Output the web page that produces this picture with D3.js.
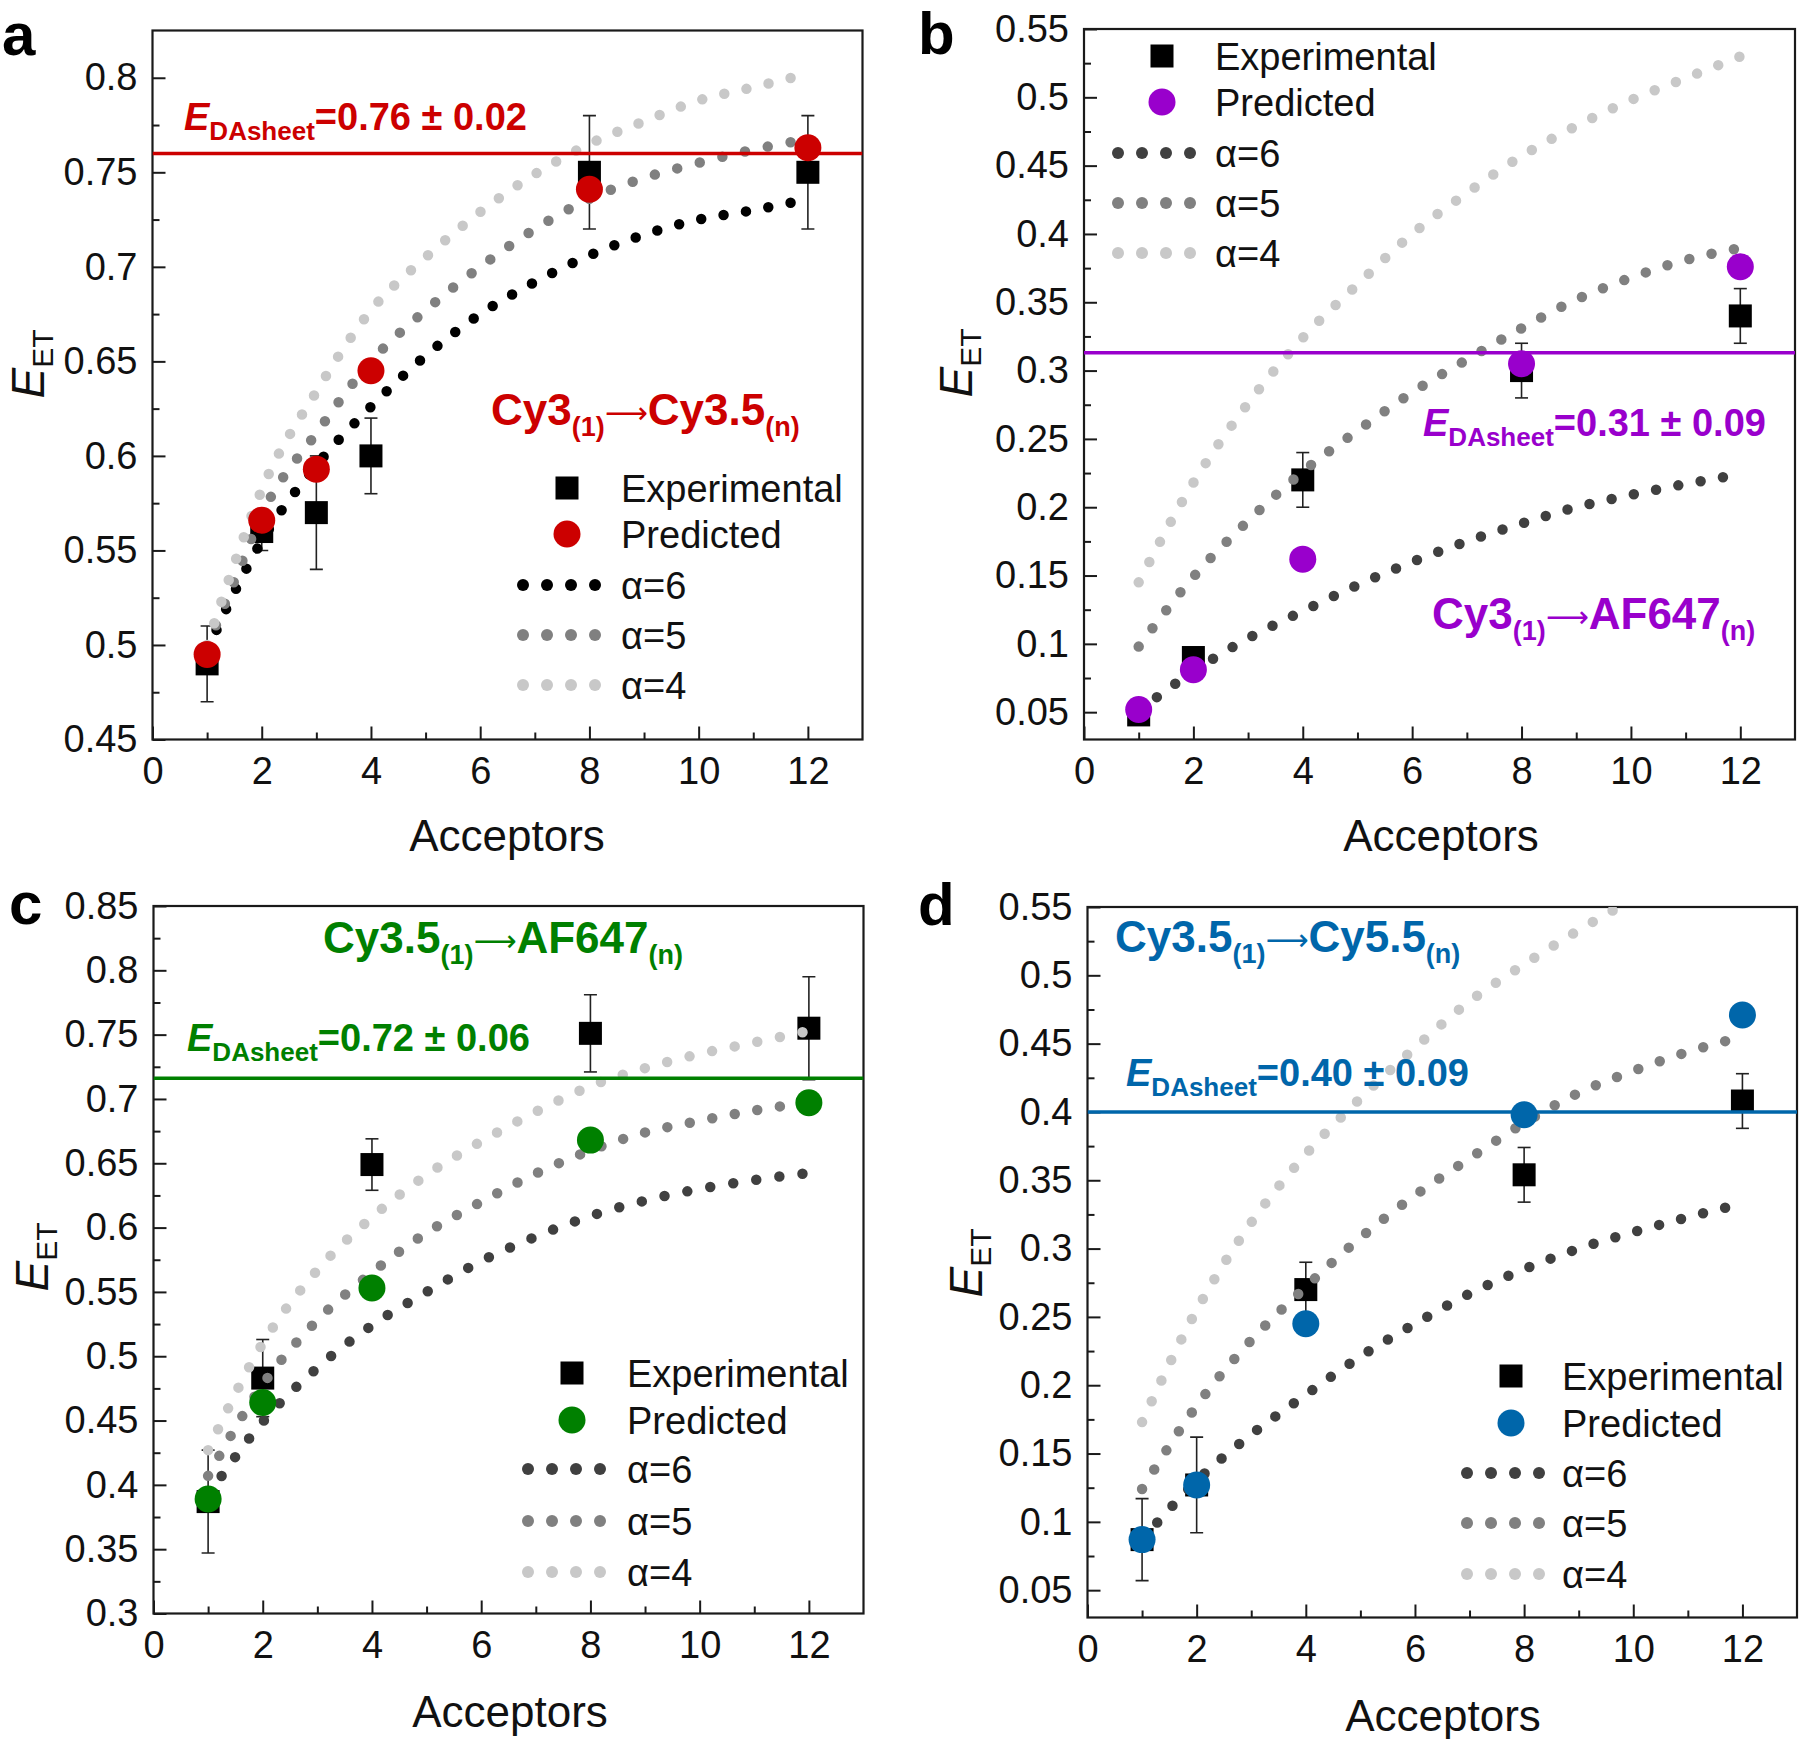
<!DOCTYPE html>
<html><head><meta charset="utf-8">
<script src="https://cdn.jsdelivr.net/npm/d3@7"></script>
<style>html,body{margin:0;padding:0;background:#fff;} text{font-family:"Liberation Sans",Arial,sans-serif;}</style>
</head><body><svg id="chart" width="1800" height="1739"></svg>
<script>
// ---------- shared ----------
const xTickValues = [0, 2, 4, 6, 8, 10, 12];
const xMinorTicks = [1, 3, 5, 7, 9, 11];
const legendLabels = ["Experimental", "Predicted"];
const alphaLabels = ["α=6", "α=5", "α=4"];
const xTitle = "Acceptors";

// ---------- panel a : Cy3 -> Cy3.5 ----------
const aAcceptors = [1, 2, 3, 4, 8, 12];
const aExperimental = [0.49, 0.56, 0.57, 0.60, 0.75, 0.75];
const aExpError = [0.02, 0.01, 0.03, 0.02, 0.03, 0.03];
const aPredicted = [0.495, 0.566, 0.593, 0.645, 0.741, 0.763];
const aCurveX = [1, 1.5, 2, 3, 4, 5, 6, 7, 8, 9, 10, 11, 11.7];
const aAlpha6 = [0.497, 0.528, 0.555, 0.595, 0.626, 0.653, 0.675, 0.692, 0.706, 0.717, 0.725, 0.730, 0.734];
const aAlpha5 = [0.499, 0.534, 0.569, 0.612, 0.650, 0.677, 0.700, 0.720, 0.736, 0.747, 0.755, 0.762, 0.766];
const aAlpha4 = [0.500, 0.543, 0.582, 0.634, 0.677, 0.705, 0.729, 0.749, 0.765, 0.777, 0.788, 0.795, 0.800];
const aSheet = 0.76;
const aYTicks = [0.45, 0.5, 0.55, 0.6, 0.65, 0.7, 0.75, 0.8];
const aYMinor = [0.475, 0.525, 0.575, 0.625, 0.675, 0.725, 0.775];

// ---------- panel b : Cy3 -> AF647 ----------
const bAcceptors = [1, 2, 4, 8, 12];
const bExperimental = [0.048, 0.09, 0.22, 0.30, 0.34];
const bExpError = [0, 0, 0.02, 0.02, 0.02];
const bPredicted = [0.052, 0.081, 0.162, 0.305, 0.376];
const bCurve6X = [1, 2, 3, 4, 5, 6, 7, 8, 9, 10, 11, 11.7];
const bAlpha6 = [0.051, 0.080, 0.104, 0.124, 0.143, 0.160, 0.175, 0.188, 0.200, 0.209, 0.217, 0.222];
const bCurve5X = [1, 2, 3, 4, 5, 6, 7, 8, 9, 10, 11, 11.9];
const bAlpha5 = [0.098, 0.149, 0.190, 0.226, 0.256, 0.284, 0.308, 0.331, 0.352, 0.368, 0.381, 0.389];
const bCurve4X = [1, 2, 3, 4, 5, 6, 7, 8, 9, 10, 11, 12];
const bAlpha4 = [0.145, 0.218, 0.276, 0.324, 0.363, 0.400, 0.430, 0.457, 0.479, 0.498, 0.514, 0.530];
const bSheet = 0.313;
const bYTicks = [0.05, 0.1, 0.15, 0.2, 0.25, 0.3, 0.35, 0.4, 0.45, 0.5, 0.55];
const bYMinor = [0.075, 0.125, 0.175, 0.225, 0.275, 0.325, 0.375, 0.425, 0.475, 0.525];

// ---------- panel c : Cy3.5 -> AF647 ----------
const cAcceptors = [1, 2, 4, 8, 12];
const cExperimental = [0.387, 0.483, 0.649, 0.751, 0.755];
const cExpError = [0.04, 0.03, 0.02, 0.03, 0.04];
const cPredicted = [0.389, 0.464, 0.553, 0.668, 0.697];
const cCurveX = [1, 2, 3, 4, 5, 6, 7, 8, 9, 10, 11, 11.9];
const cAlpha6 = [0.392, 0.449, 0.491, 0.524, 0.550, 0.574, 0.593, 0.609, 0.621, 0.630, 0.637, 0.642];
const cAlpha5 = [0.407, 0.478, 0.528, 0.565, 0.596, 0.620, 0.642, 0.660, 0.674, 0.683, 0.691, 0.697];
const cAlpha4 = [0.427, 0.510, 0.567, 0.608, 0.641, 0.667, 0.690, 0.710, 0.724, 0.735, 0.744, 0.752];
const cSheet = 0.716;
const cYTicks = [0.3, 0.35, 0.4, 0.45, 0.5, 0.55, 0.6, 0.65, 0.7, 0.75, 0.8, 0.85];
const cYMinor = [0.325, 0.375, 0.425, 0.475, 0.525, 0.575, 0.625, 0.675, 0.725, 0.775, 0.825];

// ---------- panel d : Cy3.5 -> Cy5.5 ----------
const dAcceptors = [1, 2, 4, 8, 12];
const dExperimental = [0.087, 0.127, 0.270, 0.354, 0.408];
const dExpError = [0.03, 0.035, 0.02, 0.02, 0.02];
const dPredicted = [0.087, 0.127, 0.245, 0.398, 0.471];
const dCurve6X = [1, 2, 3, 4, 5, 6, 7, 8, 9, 10, 11, 11.7];
const dAlpha6 = [0.087, 0.130, 0.164, 0.193, 0.221, 0.245, 0.267, 0.285, 0.300, 0.312, 0.323, 0.330];
const dCurve5X = [1, 2, 3, 4, 5, 6, 7, 8, 9, 10, 11, 11.7];
const dAlpha5 = [0.124, 0.185, 0.233, 0.272, 0.308, 0.339, 0.366, 0.392, 0.414, 0.430, 0.444, 0.452];
const dCurve4X = [1, 2, 3, 4, 5, 6, 7, 8, 9, 10];
const dAlpha4 = [0.173, 0.255, 0.319, 0.369, 0.410, 0.447, 0.481, 0.508, 0.533, 0.556];
const dSheet = 0.40;
const dYTicks = bYTicks;
const dYMinor = bYMinor;

// ---------- drawing ----------
const svg = d3.select("#chart");
svg.append("rect").attr("width", 1800).attr("height", 1739).attr("fill", "#fff");

const FONT = "'Liberation Sans', Arial, sans-serif";
const GREY6 = "#404040", GREY5 = "#808080", GREY4 = "#c8c8c8";

const panels = [
  { id: "a", color: "#cc0000", box: {l: 152.5, r: 862.5, t: 30.5, b: 739.5}, yDomain: [0.45, 0.825],
    yTicks: aYTicks, yMinor: aYMinor,
    acc: aAcceptors, exp: aExperimental, err: aExpError, pred: aPredicted,
    curves: [[aCurveX, aAlpha6, "#000000"], [aCurveX, aAlpha5, GREY5], [aCurveX, aAlpha4, GREY4]],
    sheet: aSheet, sheetText: "=0.76 ± 0.02", sheetPos: [184, 130],
    pair: ["Cy3", "(1)", "Cy3.5", "(n)"], pairPos: [491, 425],
    legend: {sx: 567, tx: 621, rows: [488, 534, 585, 635, 685]},
    letterPos: [2, 55], xTitlePos: [507, 851], yTitlePos: [44, 364] },
  { id: "b", color: "#9900cc", box: {l: 1084, r: 1795, t: 29, b: 739.5}, yDomain: [0.03, 0.55],
    yTicks: bYTicks, yMinor: bYMinor,
    acc: bAcceptors, exp: bExperimental, err: bExpError, pred: bPredicted,
    curves: [[bCurve6X, bAlpha6, GREY6], [bCurve5X, bAlpha5, GREY5], [bCurve4X, bAlpha4, GREY4]],
    sheet: bSheet, sheetText: "=0.31 ± 0.09", sheetPos: [1423, 436],
    pair: ["Cy3", "(1)", "AF647", "(n)"], pairPos: [1432, 629],
    legend: {sx: 1162, tx: 1215, rows: [56, 102, 153, 203, 253]},
    letterPos: [918, 54], xTitlePos: [1441, 851], yTitlePos: [972, 363] },
  { id: "c", color: "#008000", box: {l: 153.5, r: 863.5, t: 906, b: 1613.5}, yDomain: [0.3, 0.85],
    yTicks: cYTicks, yMinor: cYMinor,
    acc: cAcceptors, exp: cExperimental, err: cExpError, pred: cPredicted,
    curves: [[cCurveX, cAlpha6, GREY6], [cCurveX, cAlpha5, GREY5], [cCurveX, cAlpha4, GREY4]],
    sheet: cSheet, sheetText: "=0.72 ± 0.06", sheetPos: [187, 1051],
    pair: ["Cy3.5", "(1)", "AF647", "(n)"], pairPos: [323, 953],
    legend: {sx: 572, tx: 627, rows: [1373, 1420, 1469, 1521, 1572]},
    letterPos: [9, 924], xTitlePos: [510, 1727], yTitlePos: [48, 1257] },
  { id: "d", color: "#0066aa", box: {l: 1087.5, r: 1797, t: 907, b: 1617.5}, yDomain: [0.03, 0.55],
    yTicks: dYTicks, yMinor: dYMinor,
    acc: dAcceptors, exp: dExperimental, err: dExpError, pred: dPredicted,
    curves: [[dCurve6X, dAlpha6, GREY6], [dCurve5X, dAlpha5, GREY5], [dCurve4X, dAlpha4, GREY4]],
    sheet: dSheet, sheetText: "=0.40 ± 0.09", sheetPos: [1126, 1086],
    pair: ["Cy3.5", "(1)", "Cy5.5", "(n)"], pairPos: [1115, 952],
    legend: {sx: 1511, tx: 1562, rows: [1376, 1423, 1473, 1523, 1574]},
    letterPos: [918, 925], xTitlePos: [1443, 1731], yTitlePos: [982, 1263] }
];

function fmt(v) { return String(+v.toFixed(3)); }

panels.forEach(p => {
  const B = p.box;
  const x = d3.scaleLinear().domain([0, 13]).range([B.l, B.r]);
  const y = d3.scaleLinear().domain(p.yDomain).range([B.b, B.t]);
  const g = svg.append("g");
  const clipId = "clip-" + p.id;
  svg.append("clipPath").attr("id", clipId).append("rect")
    .attr("x", B.l).attr("y", B.t).attr("width", B.r - B.l).attr("height", B.b - B.t);

  // axes (inward ticks)
  g.append("g").attr("transform", `translate(0,${B.b})`)
    .call(d3.axisBottom(x).tickValues(xTickValues).tickSize(-13).tickPadding(18).tickFormat(d3.format("d")));
  g.append("g").attr("transform", `translate(0,${B.b})`)
    .call(d3.axisBottom(x).tickValues(xMinorTicks).tickSize(-7).tickFormat(""));
  g.append("g").attr("transform", `translate(${B.l},0)`)
    .call(d3.axisLeft(y).tickValues(p.yTicks).tickSize(-13).tickPadding(15).tickFormat(fmt));
  g.append("g").attr("transform", `translate(${B.l},0)`)
    .call(d3.axisLeft(y).tickValues(p.yMinor).tickSize(-7).tickFormat(""));
  g.selectAll(".domain").remove();
  g.selectAll(".tick line").attr("stroke", "#1a1a1a").attr("stroke-width", 2);
  g.selectAll(".tick text").attr("font-size", 38).attr("font-family", FONT).attr("fill", "#111");

  // frame
  g.append("rect").attr("x", B.l).attr("y", B.t).attr("width", B.r - B.l).attr("height", B.b - B.t)
    .attr("fill", "none").attr("stroke", "#1a1a1a").attr("stroke-width", 2.2);

  const plot = g.append("g").attr("clip-path", `url(#${clipId})`);

  // error bars + experimental squares
  p.acc.forEach((a, i) => {
    const e = p.err[i];
    if (e > 0) {
      const x0 = x(a), y1 = y(p.exp[i] + e), y2 = y(p.exp[i] - e);
      plot.append("line").attr("x1", x0).attr("x2", x0).attr("y1", y1).attr("y2", y2)
        .attr("stroke", "#222").attr("stroke-width", 1.6);
      [y1, y2].forEach(yy => plot.append("line").attr("x1", x0 - 6.5).attr("x2", x0 + 6.5)
        .attr("y1", yy).attr("y2", yy).attr("stroke", "#222").attr("stroke-width", 1.6));
    }
  });
  plot.selectAll("rect.exp").data(p.acc).join("rect").attr("class", "exp")
    .attr("x", (a) => x(a) - 11.5).attr("y", (a, i) => y(p.exp[i]) - 11.5)
    .attr("width", 23).attr("height", 23).attr("fill", "#000");

  // dotted model curves (dot spacing adjusted so a dot lands near each end)
  const line = d3.line().x(d => x(d[0])).y(d => y(d[1])).curve(d3.curveMonotoneX);
  p.curves.forEach(([cx, cy, col]) => {
    const path = plot.append("path").attr("d", line(d3.zip(cx, cy))).attr("fill", "none")
      .attr("stroke", col).attr("stroke-width", 10.5).attr("stroke-linecap", "round");
    const len = path.node().getTotalLength();
    const n = Math.max(1, Math.round(len / 23));
    path.attr("stroke-dasharray", `0 ${(len - 1) / n}`);
  });

  // E_DAsheet line
  plot.append("line").attr("x1", B.l).attr("x2", B.r).attr("y1", y(p.sheet)).attr("y2", y(p.sheet))
    .attr("stroke", p.color).attr("stroke-width", 3.5);

  // predicted circles
  plot.selectAll("circle.pred").data(p.acc).join("circle").attr("class", "pred")
    .attr("cx", a => x(a)).attr("cy", (a, i) => y(p.pred[i])).attr("r", 13.5).attr("fill", p.color);

  // legend
  const L = p.legend;
  g.append("rect").attr("x", L.sx - 11.5).attr("y", L.rows[0] - 11.5).attr("width", 23).attr("height", 23).attr("fill", "#000");
  g.append("circle").attr("cx", L.sx).attr("cy", L.rows[1]).attr("r", 13.5).attr("fill", p.color);
  p.curves.forEach((c, k) => {
    for (let j = 0; j < 4; j++) {
      g.append("circle").attr("cx", L.sx - 44 + j * 24).attr("cy", L.rows[2 + k]).attr("r", 6).attr("fill", c[2]);
    }
  });
  const labels = legendLabels.concat(alphaLabels);
  labels.forEach((t, k) => {
    g.append("text").attr("x", L.tx).attr("y", L.rows[k] + 13.5).attr("font-size", 38)
      .attr("font-family", FONT).attr("fill", "#111").text(t);
  });

  // E_DAsheet label
  const st = g.append("text").attr("x", p.sheetPos[0]).attr("y", p.sheetPos[1])
    .attr("font-family", FONT).attr("font-weight", "bold").attr("fill", p.color).attr("font-size", 38);
  st.append("tspan").attr("font-style", "italic").text("E");
  st.append("tspan").attr("font-size", 26).attr("dy", 10).text("DAsheet");
  st.append("tspan").attr("dy", -10).text(p.sheetText);

  // dye pair label
  const pt = g.append("text").attr("x", p.pairPos[0]).attr("y", p.pairPos[1])
    .attr("font-family", FONT).attr("font-weight", "bold").attr("fill", p.color).attr("font-size", 44);
  pt.append("tspan").text(p.pair[0]);
  pt.append("tspan").attr("font-size", 27).attr("dy", 11).text(p.pair[1]);
  pt.append("tspan").attr("font-weight", "normal").attr("font-family", "'DejaVu Sans', sans-serif")
    .attr("font-size", 30).attr("dy", -13).text("⟶");
  pt.append("tspan").attr("dy", 2).text(p.pair[2]);
  pt.append("tspan").attr("font-size", 27).attr("dy", 11).text(p.pair[3]);

  // panel letter
  g.append("text").attr("x", p.letterPos[0]).attr("y", p.letterPos[1]).attr("font-family", FONT)
    .attr("font-weight", "bold").attr("font-size", 60).attr("fill", "#000").text(p.id);

  // axis titles
  g.append("text").attr("x", p.xTitlePos[0]).attr("y", p.xTitlePos[1]).attr("text-anchor", "middle")
    .attr("font-family", FONT).attr("font-size", 44).attr("fill", "#111").text(xTitle);
  const yt = g.append("text").attr("transform", `translate(${p.yTitlePos[0]},${p.yTitlePos[1]}) rotate(-90)`)
    .attr("text-anchor", "middle").attr("font-family", FONT).attr("font-size", 46).attr("fill", "#111");
  yt.append("tspan").attr("font-style", "italic").text("E");
  yt.append("tspan").attr("font-size", 30).attr("dy", 9).text("ET");
});
</script></body></html>
